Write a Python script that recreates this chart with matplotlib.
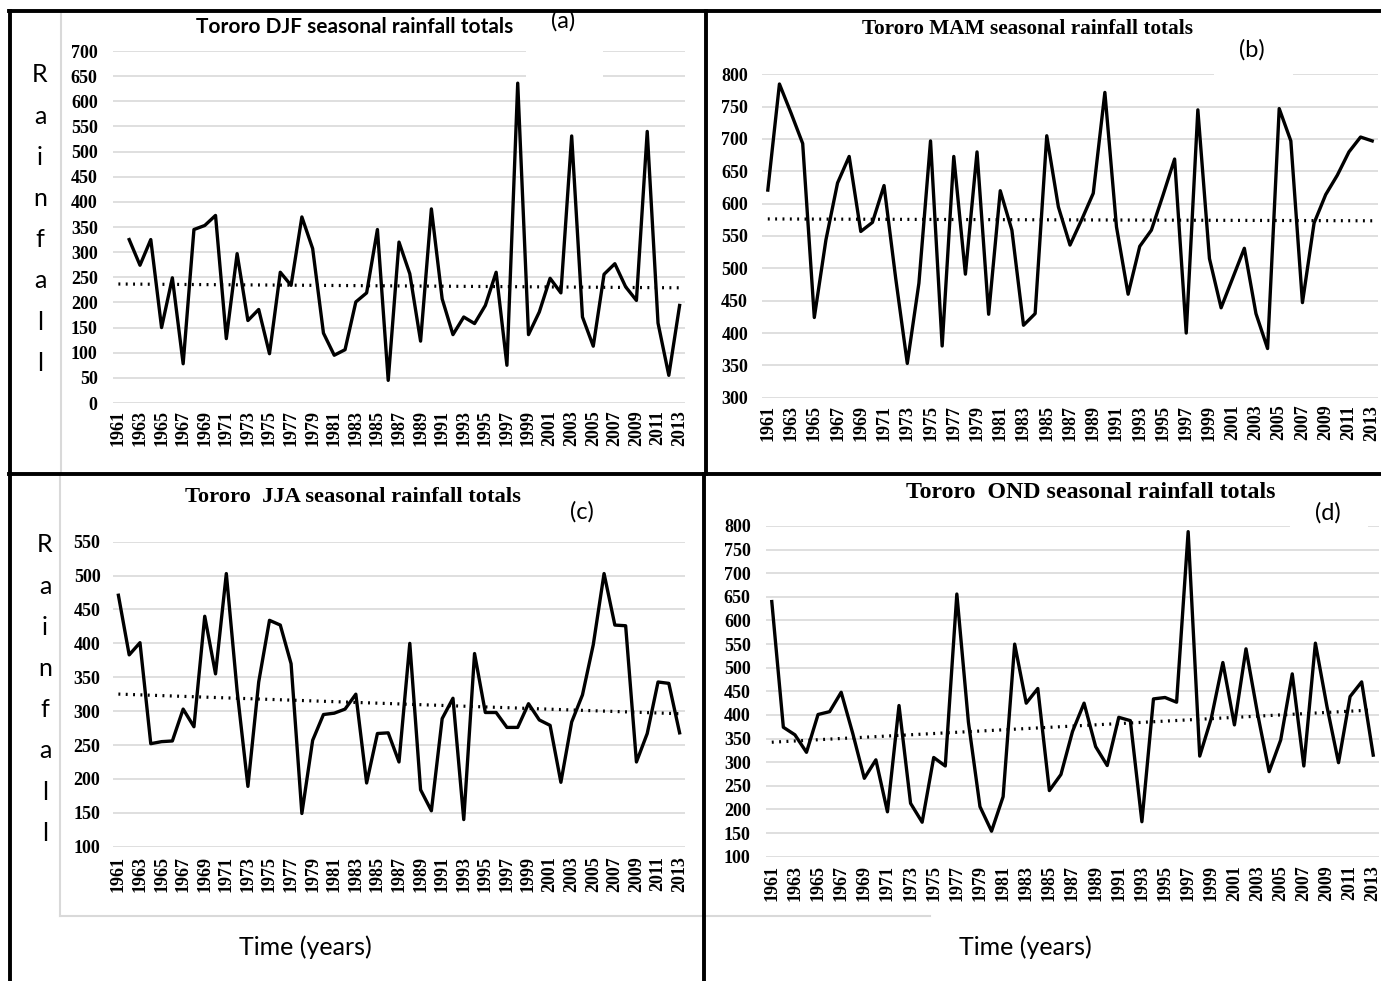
import numpy as np
import matplotlib
matplotlib.use("Agg")
import matplotlib.pyplot as plt
from matplotlib.patches import Rectangle
from matplotlib.lines import Line2D

years = list(range(1961, 2014))

djf = [np.nan, 325, 274, 325, 150, 249, 78, 345, 353, 373, 128,
       297, 164, 186, 98, 260, 234, 370, 307, 139, 95,
       106, 201, 219, 345, 45,
       320, 257, 123, 386, 207, 136, 171, 158, 194, 260,
       75, 636, 136, 181, 248, 219, 531, 171, 113, 256,
       277, 231, 204, 540, 159, 55, 194]

mam = [621, 785, 740, 693, 424, 544, 632, 673, 557, 571,
       628, 485, 353, 477, 697, 380, 673, 491, 680, 429,
       620, 559, 412, 430, 705,
       595, 536, 575, 616, 772, 564, 460, 534, 559, 613,
       669, 400, 745, 515, 439, 485, 531, 430, 376, 747,
       697, 447, 570, 614, 644, 680, 703, 697]

jja = [471, 383, 401, 252, 255, 256, 303, 277, 440, 355,
       503, 330, 189, 343, 434, 427, 370, 149, 257, 295,
       297, 303, 325, 194, 267, 268,
       225, 400, 184, 153, 289, 319, 140, 385, 298, 298,
       276, 276, 311, 287, 279, 195, 284, 324, 398, 503,
       427, 426, 225, 267, 343, 341, 268]

ond = [640, 374, 358, 321, 401, 407, 448, 361, 266, 305,
       195, 420, 213, 173, 310, 292, 656, 385, 206, 154,
       227, 550, 425, 456, 240,
       274, 365, 425, 333, 293, 395, 388, 174, 434, 437,
       427, 788, 313, 393, 511, 379, 540, 403, 280, 347,
       487, 292, 552, 418, 299, 439, 470, 315]

titles = ["Tororo DJF seasonal rainfall totals",
          "Tororo MAM seasonal rainfall totals",
          "Tororo  JJA seasonal rainfall totals",
          "Tororo  OND seasonal rainfall totals"]
panel_tags = ["(a)", "(b)", "(c)", "(d)"]
ylabel_letters = list("Rainfall")
xlabel_text = "Time (years)"

W, H = 1381, 981
fig = plt.figure(figsize=(W / 100, H / 100), dpi=100)
fig.patch.set_facecolor("white")


def fx(px):
    return px / W


def fy(py):
    return 1 - py / H


def make_ax(l, r, t, b):
    return fig.add_axes([fx(l), fy(b), fx(r) - fx(l), fy(t) - fy(b)])


SERIF = ["Liberation Serif", "DejaVu Serif"]
SANS = ["Lato", "DejaVu Sans"]

panels = [
    dict(data=djf, box=(113, 685, 51, 403), ylim=(0, 700), ypad=11, xpad=5,
         title=titles[0], tpos=(355, 27), tfont=SANS, tsize=15,
         tag=panel_tags[0], tagpos=(563, 21), tagbox=(526, 14, 603, 82)),
    dict(data=mam, box=(762, 1378, 74.3, 397.7), ylim=(300, 800), ypad=10, xpad=5,
         title=titles[1], tpos=(1027, 29), tfont=SERIF, tsize=15.3,
         tag=panel_tags[1], tagpos=(1252, 50), tagbox=(1214, 32, 1293, 90)),
    dict(data=jja, box=(113, 685, 541.7, 846.7), ylim=(100, 550), ypad=9, xpad=7,
         title=titles[2], tpos=(353, 497), tfont=SERIF, tsize=16.2,
         tag=panel_tags[2], tagpos=(582, 512), tagbox=None),
    dict(data=ond, box=(766, 1379, 526, 856.7), ylim=(100, 800), ypad=11, xpad=6,
         title=titles[3], tpos=(1091, 493), tfont=SERIF, tsize=17.2,
         tag=panel_tags[3], tagpos=(1328, 513), tagbox=(1290, 497, 1368, 540)),
]

for p in panels:
    l, r, t, b = p["box"]
    ax = make_ax(l, r, t, b)
    y = np.array(p["data"], dtype=float)
    x = np.array(years, dtype=float)
    ax.plot(x, y, color="black", lw=2.4, zorder=3)
    m = ~np.isnan(y)
    coef = np.polyfit(x[m], y[m], 1)
    ax.plot(x, np.polyval(coef, x), color="black", lw=2.3,
            linestyle=(0, (0.6, 1.7)), zorder=2)
    ax.set_xlim(1960.5, 2013.5)
    ax.set_ylim(*p["ylim"])
    ax.set_yticks(np.arange(p["ylim"][0], p["ylim"][1] + 1, 50))
    ax.set_xticks(years[::2])
    ax.set_xticklabels([str(v) for v in years[::2]], rotation=90)
    for s in ax.spines.values():
        s.set_visible(False)
    ax.yaxis.grid(True, color="#d9d9d9", lw=1.2)
    ax.xaxis.grid(False)
    ax.set_axisbelow(True)
    ax.tick_params(axis="both", length=0)
    ax.tick_params(axis="y", pad=p["ypad"])
    ax.tick_params(axis="x", pad=p["xpad"])
    for lab in ax.get_yticklabels() + ax.get_xticklabels():
        lab.set_fontfamily(SERIF)
        lab.set_fontweight("bold")
        lab.set_fontsize(13)
    ax.patch.set_alpha(0)

    fig.text(fx(p["tpos"][0]), fy(p["tpos"][1]), p["title"], ha="center",
             va="center", fontsize=p["tsize"], fontweight="bold",
             family=p["tfont"], zorder=6)
    if p["tagbox"] is not None:
        x0, y0, x1, y1 = p["tagbox"]
        fig.add_artist(Rectangle((fx(x0), fy(y1)), fx(x1) - fx(x0), fy(y0) - fy(y1),
                                 transform=fig.transFigure, facecolor="white",
                                 edgecolor="none", zorder=5))
    fig.text(fx(p["tagpos"][0]), fy(p["tagpos"][1]), p["tag"], ha="center",
             va="center", fontsize=17, family=SANS, zorder=6)

# vertical "Rainfall" letters
for top, xc in ((75, 40), (545, 45)):
    for i, ch in enumerate(ylabel_letters):
        fig.text(fx(xc), fy(top + i * 41.2), ch, ha="center", va="center",
                 fontsize=18, family=SANS, zorder=6)

for xc in (305, 1025):
    fig.text(fx(xc), fy(947), xlabel_text, ha="center", va="center",
             fontsize=18, family=SANS, zorder=6)

# light gray chart-area borders
gray = "#d9d9d9"
for (x0, y0, x1, y1) in [(61, 11, 61, 474), (60, 474, 60, 916),
                         (60, 916, 703, 916), (706, 916, 930, 916)]:
    fig.add_artist(Line2D([fx(x0), fx(x1)], [fy(y0), fy(y1)],
                          transform=fig.transFigure, color=gray, lw=1.5, zorder=4))

# thick black frame lines
for (x0, y0, x1, y1) in [(9, 11, 1381, 11), (10, 11, 10, 981),
                         (9, 474, 1381, 474), (706, 11, 706, 474),
                         (704, 474, 704, 981)]:
    fig.add_artist(Line2D([fx(x0), fx(x1)], [fy(y0), fy(y1)],
                          transform=fig.transFigure, color="black", lw=2.8,
                          solid_capstyle="projecting", zorder=7))

fig.savefig("out.png", dpi=100, facecolor="white")
